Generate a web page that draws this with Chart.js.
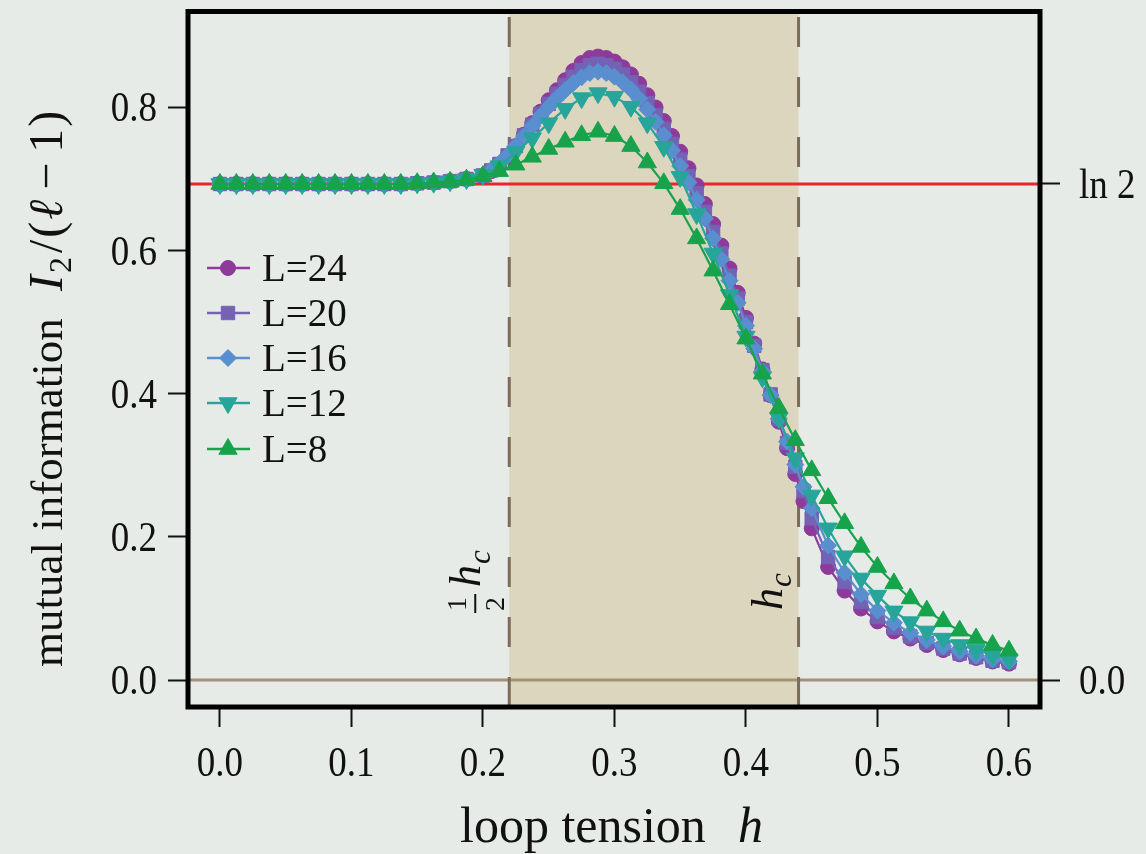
<!DOCTYPE html>
<html><head><meta charset="utf-8">
<script src="https://cdn.jsdelivr.net/npm/chart.js@4.4.0/dist/chart.umd.min.js"></script>
<style>
html,body{margin:0;padding:0;background:#e7ebe8;}
#wrap{width:1146px;height:854px;position:relative;}
canvas{display:block;}
</style></head><body>
<div id="wrap"><canvas id="c" width="1146" height="854"></canvas></div>
<script>
// ---- data ----
const hCoarse = [0,0.0125,0.025,0.0375,0.05,0.0625,0.075,0.0875,0.1,0.1125,0.125,0.1375,0.15,0.1625,0.175,0.1875,
  0.2,0.2125,0.225,0.2375,0.25,0.2625,0.275,0.2875,0.3,0.3125,0.325,0.3375,0.35,0.3625,0.375,0.3875,
  0.4,0.4125,0.425,0.4375,0.45,0.4625,0.475,0.4875,0.5,0.5125,0.525,0.5375,0.55,0.5625,0.575,0.5875,0.6];
const hFine = [0,0.0125,0.025,0.0375,0.05,0.0625,0.075,0.0875,0.1,0.1125,0.125,0.1375,0.15,0.1625,0.175,0.1875,
  0.2,0.20625,0.2125,0.21875,0.225,0.23125,0.2375,0.24375,0.25,0.25625,0.2625,0.26875,0.275,0.28125,0.2875,0.29375,
  0.3,0.30625,0.3125,0.31875,0.325,0.33125,0.3375,0.34375,0.35,0.35625,0.3625,0.36875,0.375,0.38125,0.3875,0.39375,
  0.4,0.40625,0.4125,0.41875,0.425,0.43125,0.4375,0.44375,0.45,
  0.4625,0.475,0.4875,0.5,0.5125,0.525,0.5375,0.55,0.5625,0.575,0.5875,0.6];

const valL24 = [0.693,0.693,0.693,0.693,0.693,0.693,0.693,0.693,0.693,0.693,0.693,0.693,0.694,0.695,0.697,0.700,
  0.704,0.711,0.720,0.732,0.746,0.762,0.778,0.794,0.810,0.824,0.838,0.851,0.862,0.869,0.871,0.869,
  0.864,0.856,0.846,0.833,0.817,0.800,0.781,0.760,0.738,0.715,0.691,0.665,0.637,0.607,0.575,0.541,
  0.506,0.470,0.434,0.398,0.361,0.324,0.288,0.250,0.212,
  0.158,0.125,0.100,0.082,0.068,0.058,0.049,0.042,0.036,0.031,0.026,0.023];
const valL20 = [0.693,0.693,0.693,0.693,0.693,0.693,0.693,0.693,0.693,0.693,0.693,0.693,0.694,0.695,0.697,0.700,
  0.705,0.712,0.721,0.733,0.746,0.761,0.776,0.791,0.805,0.819,0.831,0.843,0.852,0.859,0.861,0.859,
  0.854,0.846,0.835,0.822,0.806,0.789,0.770,0.749,0.727,0.704,0.680,0.654,0.626,0.596,0.565,0.533,
  0.500,0.467,0.433,0.399,0.365,0.331,0.298,0.264,0.226,
  0.172,0.137,0.109,0.088,0.073,0.061,0.052,0.044,0.037,0.032,0.027,0.025];
const valL16 = [0.693,0.693,0.693,0.693,0.693,0.693,0.693,0.693,0.693,0.693,0.693,0.693,0.694,0.695,0.697,0.700,
  0.706,0.713,0.722,0.733,0.746,0.760,0.774,0.788,0.801,0.813,0.824,0.834,0.842,0.848,0.850,0.848,
  0.843,0.835,0.825,0.812,0.797,0.780,0.761,0.740,0.718,0.695,0.671,0.645,0.617,0.588,0.558,0.527,
  0.495,0.463,0.431,0.398,0.365,0.333,0.301,0.270,0.240,
  0.188,0.150,0.120,0.097,0.080,0.066,0.056,0.047,0.040,0.034,0.029,0.026];
const valL12 = [0.693,0.693,0.693,0.693,0.693,0.693,0.693,0.693,0.693,0.693,0.693,0.693,0.694,0.695,0.697,0.700,
  0.706,0.718,0.738,0.757,0.778,0.798,0.813,0.820,0.815,0.801,0.778,0.745,0.703,0.651,0.596,0.538,
  0.480,0.423,0.366,0.310,0.258,0.212,0.173,0.142,0.118,0.096,0.081,0.068,0.058,0.049,0.042,0.035,0.029];
const valL8 = [0.693,0.693,0.693,0.693,0.693,0.693,0.693,0.693,0.693,0.693,0.693,0.693,0.694,0.695,0.696,0.699,
  0.704,0.711,0.720,0.731,0.742,0.752,0.761,0.766,0.760,0.746,0.723,0.694,0.658,0.617,0.572,0.525,
  0.477,0.428,0.380,0.335,0.293,0.254,0.219,0.186,0.158,0.135,0.114,0.097,0.082,0.069,0.058,0.049,0.041];

const seriesLabels = ['L=24','L=20','L=16','L=12','L=8'];
const xTickValues = [0,0.1,0.2,0.3,0.4,0.5,0.6];
const xTickLabels = ['0.0','0.1','0.2','0.3','0.4','0.5','0.6'];
const yTickValues = [0,0.2,0.4,0.6,0.8];
const yTickLabels = ['0.0','0.2','0.4','0.6','0.8'];
const rightTickValues = [0,0.6931];
const rightTickLabels = ['0.0','ln 2'];
const ln2Value = 0.6931;
const hcHalf = 0.22;
const hcFull = 0.44;

// ---- styles ----
const BG = '#e7ebe8';
const SERIF = "'Liberation Serif','Times New Roman',serif";
const styleMap = {
  'L=24': {color:'#8d3a9b', pointStyle:'circle', radius:7.5, rotation:0},
  'L=20': {color:'#7462b4', pointStyle:'rect', radius:9.5, rotation:0},
  'L=16': {color:'#5a8fcf', pointStyle:'rectRot', radius:8.5, rotation:0},
  'L=12': {color:'#27a59a', pointStyle:'triangle', radius:10.5, rotation:180},
  'L=8':  {color:'#17a34b', pointStyle:'triangle', radius:10.5, rotation:0}
};
const seriesData = {
  'L=24': [hFine, valL24], 'L=20': [hFine, valL20], 'L=16': [hFine, valL16],
  'L=12': [hCoarse, valL12], 'L=8': [hCoarse, valL8]
};

// draw order: L=8 on top (first dataset is drawn last)
const datasets = seriesLabels.slice().reverse().map(lab => {
  const s = styleMap[lab]; const [hx, vy] = seriesData[lab];
  return {
    label: lab,
    data: hx.map((h,i) => ({x:h, y:vy[i]})),
    borderColor: s.color, backgroundColor: s.color,
    pointBackgroundColor: s.color, pointBorderColor: s.color,
    pointStyle: s.pointStyle, pointRadius: s.radius, pointRotation: s.rotation,
    pointBorderWidth: 1, borderWidth: 2.2, tension: 0, fill: false
  };
});

function drawRich(ctx, parts, x, y, opt) {
  const o = Object.assign({align:'left', rot:0, sy:1, color:'#111'}, opt||{});
  ctx.save(); ctx.translate(x, y); ctx.scale(1, o.sy); ctx.rotate(o.rot);
  ctx.fillStyle = o.color; ctx.textBaseline = 'alphabetic'; ctx.textAlign = 'left';
  let w = 0;
  for (const p of parts) { ctx.font = p.font; w += ctx.measureText(p.t).width + (p.dx||0); }
  let cx = o.align === 'center' ? -w/2 : (o.align === 'right' ? -w : 0);
  for (const p of parts) { ctx.font = p.font; ctx.fillText(p.t, cx, p.dy||0); cx += ctx.measureText(p.t).width + (p.dx||0); }
  ctx.restore();
}

const decor = {
  id: 'decor',
  beforeDraw(chart) {
    const ctx = chart.ctx; ctx.save(); ctx.fillStyle = BG; ctx.fillRect(0,0,chart.width,chart.height); ctx.restore();
  },
  beforeDatasetsDraw(chart) {
    const {ctx, chartArea: ca, scales: {x, y}} = chart;
    ctx.save();
    const xa = x.getPixelForValue(hcHalf), xb = x.getPixelForValue(hcFull);
    ctx.fillStyle = '#dcd6bf';
    ctx.fillRect(xa, ca.top, xb - xa, ca.bottom - ca.top);
    ctx.strokeStyle = '#a39278'; ctx.lineWidth = 3;
    ctx.beginPath(); ctx.moveTo(ca.left, y.getPixelForValue(0)); ctx.lineTo(ca.right, y.getPixelForValue(0)); ctx.stroke();
    ctx.strokeStyle = '#e8262b'; ctx.lineWidth = 3;
    ctx.beginPath(); ctx.moveTo(ca.left, y.getPixelForValue(ln2Value)); ctx.lineTo(ca.right, y.getPixelForValue(ln2Value)); ctx.stroke();
    ctx.strokeStyle = '#7a6c58'; ctx.lineWidth = 3; ctx.setLineDash([30, 30]);
    for (const xv of [xa, xb]) { ctx.beginPath(); ctx.moveTo(xv, ca.bottom); ctx.lineTo(xv, ca.top); ctx.stroke(); }
    ctx.restore();
  },
  afterDraw(chart) {
    const {ctx, chartArea: ca, scales: {x, y}} = chart;
    ctx.save();
    ctx.strokeStyle = '#000'; ctx.lineWidth = 5;
    ctx.strokeRect(ca.left, ca.top, ca.right - ca.left, ca.bottom - ca.top);
    ctx.restore();
    const SY = 1.15;
    const tf = '37px ' + SERIF;
    yTickValues.forEach((v,i) => drawRich(ctx, [{t:yTickLabels[i], font:tf}], 157, y.getPixelForValue(v) + 14, {align:'right', sy:SY}));
    xTickValues.forEach((v,i) => drawRich(ctx, [{t:xTickLabels[i], font:tf}], x.getPixelForValue(v), 776, {align:'center', sy:SY}));
    rightTickValues.forEach((v,i) => drawRich(ctx, [{t:rightTickLabels[i], font:tf}], 1079, y.getPixelForValue(v) + 14, {align:'left', sy:SY}));
    // x title
    drawRich(ctx, [{t:'loop tension', font:'50px ' + SERIF}], 460, 842, {});
    drawRich(ctx, [{t:'h', font:'italic 50px ' + SERIF}], 738, 842, {});
    // y title: "mutual information" then the formula
    drawRich(ctx, [{t:'mutual information', font:'45px ' + SERIF}], 62, 667, {rot:-Math.PI/2});
    drawRich(ctx, [
      {t:'I', font:'italic 48px ' + SERIF, dx:2},
      {t:'2', font:'32px ' + SERIF, dy:9, dx:4},
      {t:'/', font:'48px ' + SERIF, dx:2},
      {t:'(', font:'48px ' + SERIF, dx:2},
      {t:'\u2113', font:'italic 48px ' + SERIF, dx:10},
      {t:'\u2212', font:'48px ' + SERIF, dx:10},
      {t:'1', font:'48px ' + SERIF, dx:2},
      {t:')', font:'48px ' + SERIF}
    ], 62, 291, {rot:-Math.PI/2});
    // 1/2 h_c label
    const xa = x.getPixelForValue(hcHalf), xb = x.getPixelForValue(hcFull);
    ctx.save(); ctx.translate(xa - 24, 614); ctx.rotate(-Math.PI/2); ctx.fillStyle = '#111';
    ctx.font = '28px ' + SERIF; ctx.textAlign = 'center';
    ctx.fillText('1', 10, -19); ctx.fillText('2', 10, 19);
    ctx.fillRect(1, -11, 19, 2);
    ctx.textAlign = 'left'; ctx.font = 'italic 44px ' + SERIF; ctx.fillText('h', 27, -5);
    const wh = ctx.measureText('h').width;
    ctx.font = 'italic 31px ' + SERIF; ctx.fillText('c', 27 + wh + 1, 5);
    ctx.restore();
    // h_c label
    ctx.save(); ctx.translate(xb - 17, 610); ctx.rotate(-Math.PI/2); ctx.fillStyle = '#111';
    ctx.font = 'italic 44px ' + SERIF; ctx.fillText('h', 0, 0);
    const wh2 = ctx.measureText('h').width;
    ctx.font = 'italic 31px ' + SERIF; ctx.fillText('c', wh2 + 1, 9);
    ctx.restore();
    // legend
    const rowsY = [268, 313, 358, 403, 449];
    seriesLabels.forEach((lab, i) => {
      const s = styleMap[lab]; const yy = rowsY[i];
      ctx.save();
      ctx.strokeStyle = s.color; ctx.lineWidth = 2.5;
      ctx.beginPath(); ctx.moveTo(207, yy); ctx.lineTo(250, yy); ctx.stroke();
      ctx.fillStyle = s.color; ctx.lineWidth = 1;
      Chart.helpers.drawPoint(ctx, {pointStyle: s.pointStyle, rotation: s.rotation, radius: s.radius, borderWidth: 1}, 228, yy);
      ctx.restore();
      drawRich(ctx, [{t:lab, font:'39px ' + SERIF}], 262, yy + 13, {});
    });
  }
};

const yMin = -0.0376, yMax = 0.934;
new Chart(document.getElementById('c'), {
  type: 'line',
  data: { datasets },
  options: {
    responsive: false, animation: false, devicePixelRatio: 1,
    layout: { padding: { top: 10, left: 0, right: 0, bottom: 0 } },
    plugins: { legend: { display: false }, tooltip: { enabled: false } },
    scales: {
      x: {
        type: 'linear', position: 'bottom', min: -0.0243, max: 0.6236,
        afterBuildTicks: s => { s.ticks = xTickValues.map(v => ({value: v})); },
        afterFit: s => { s.height = 147; },
        ticks: { display: false },
        grid: { drawOnChartArea: false, drawTicks: true, tickLength: 20, tickColor: '#111', tickWidth: 2 },
        border: { display: false }
      },
      y: {
        type: 'linear', position: 'left', min: yMin, max: yMax,
        afterBuildTicks: s => { s.ticks = yTickValues.map(v => ({value: v})); },
        afterFit: s => { s.width = 188; },
        ticks: { display: false },
        grid: { drawOnChartArea: false, drawTicks: true, tickLength: 20, tickColor: '#111', tickWidth: 2 },
        border: { display: false }
      },
      y2: {
        type: 'linear', position: 'right', min: yMin, max: yMax,
        afterBuildTicks: s => { s.ticks = rightTickValues.map(v => ({value: v})); },
        afterFit: s => { s.width = 106; },
        ticks: { display: false },
        grid: { drawOnChartArea: false, drawTicks: true, tickLength: 20, tickColor: '#111', tickWidth: 2 },
        border: { display: false }
      }
    }
  },
  plugins: [decor]
});
</script>
</body></html>
